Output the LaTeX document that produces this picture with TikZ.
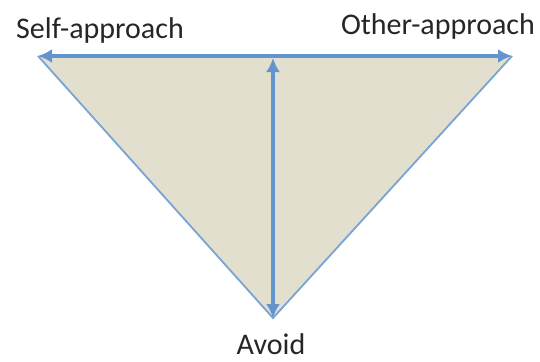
\documentclass[tikz,border=0pt]{standalone}
\usepackage{fontspec}
\setmainfont{Carlito}
\usetikzlibrary{arrows.meta}

\definecolor{axisblue}{RGB}{98,148,205}
\definecolor{edgeblue}{RGB}{120,163,213}
\definecolor{sand}{RGB}{226,223,206}

\begin{document}
\begin{tikzpicture}[x=1pt,y=-1pt,
    every node/.style={font=\fontsize{30}{36}\selectfont, text=black!85, inner sep=0pt},
    axis/.style={line width=4pt, draw=axisblue, {Latex[length=14pt,width=14pt]}-{Latex[length=14pt,width=14pt]}},
    edge/.style={line width=1.8pt, draw=edgeblue}]

    \useasboundingbox (0,0) rectangle (540,361);

    % corners of the triangle
    \coordinate (sa) at (38,56);
    \coordinate (oa) at (512,56);
    \coordinate (av) at (273,318);
    \coordinate (top) at (273,58);

    \fill[sand] (sa) -- (oa) -- (av) -- cycle;
    \draw[edge] (oa) -- (av) -- (sa);

      % the two axes
      \draw[axis] (sa) -- (oa);
      \draw[axis] (av) -- (top);

    \node [anchor=base] (self) at (100,38) {Self-approach};
    \node [anchor=base] (other) at (438,35) {Other-approach};
    \node [anchor=base] (avoid) at (271,354) {Avoid};

\end{tikzpicture}
\end{document}
